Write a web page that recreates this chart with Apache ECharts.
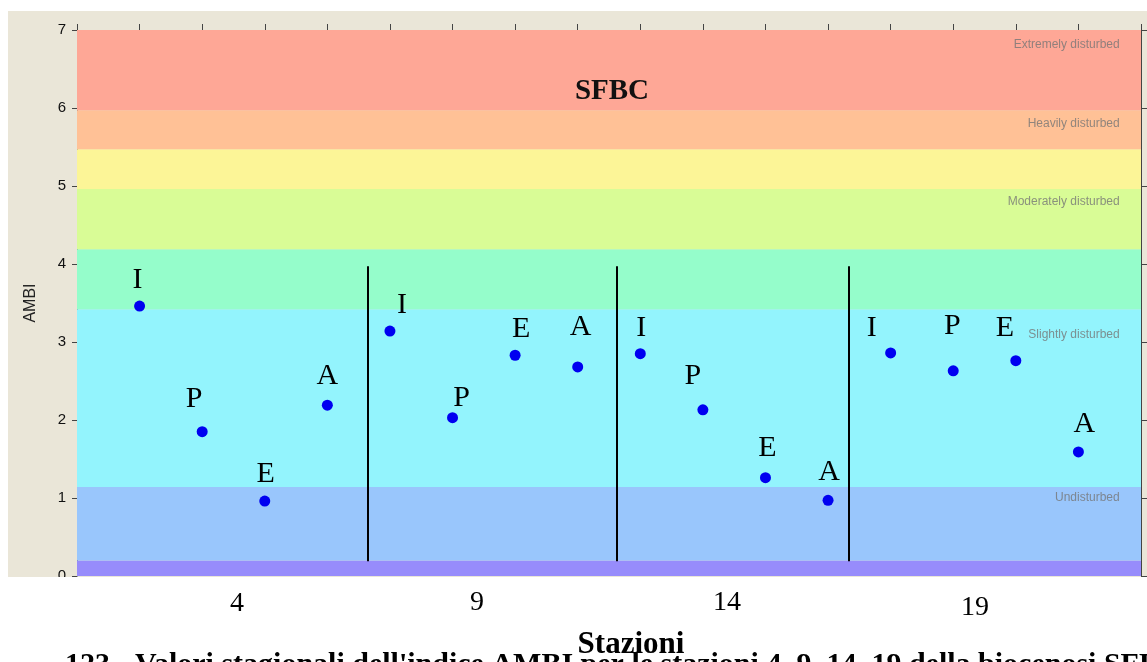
<!DOCTYPE html>
<html><head><meta charset="utf-8">
<script src="https://cdn.jsdelivr.net/npm/echarts@6/dist/echarts.min.js"></script>
<style>html,body{margin:0;padding:0;background:#fff;overflow:hidden;} #c{width:1147px;height:662px;}</style>
</head><body><div id="c"></div>
<script>
// ---- data ----
const seasons = ['I', 'P', 'E', 'A'];
const stations = ['4', '9', '14', '19'];
const ambi4 = [3.46, 1.85, 0.96, 2.19];
const ambi9 = [3.14, 2.03, 2.83, 2.68];
const ambi14 = [2.85, 2.13, 1.26, 0.97];
const ambi19 = [2.86, 2.63, 2.76, 1.59];
const bandBounds = [0, 0.2, 1.14, 3.42, 4.19, 4.96, 5.47, 5.97, 7];
const bandLabels = ['Undisturbed', 'Slightly disturbed', 'Moderately disturbed', 'Heavily disturbed', 'Extremely disturbed'];
const bandLabelY = [1.0, 3.10, 4.80, 5.80, 6.81];
const separatorX = [4.65, 8.62, 12.33];
const separatorRange = [0.19, 3.97];
const yTicks = [0, 1, 2, 3, 4, 5, 6, 7];
const xTicks = [0, 17];
const chartTitle = 'SFBC';
const xTitle = 'Stazioni';
const yTitle = 'AMBI';
const caption = "123 - Valori stagionali dell'indice AMBI per le stazioni 4, 9, 14, 19 della biocenosi SFBC";

// ---- styles ----
const bandColors = ['#978cfb', '#99c6fc', '#93f4fd', '#95fdcb', '#d9fc96', '#fcf597', '#ffc196', '#fea796'];
const letterOffsets = [
  [[-2, -26], [-8, -33], [1, -27], [0, -29]],
  [[12, -26], [9, -20], [6, -26], [3, -40]],
  [[1, -26], [-10, -34], [2, -30], [1, -28]],
  [[-19, -25], [-1, -45], [-11, -33], [6, -28]]
];
const stationLabelPos = [[237, 604], [477, 603], [727, 603], [975, 608]];
const bandLabelX = 16.66;
const serif = '"Liberation Serif", "Times New Roman", serif';
const sans = '"Liberation Sans", Arial, sans-serif';

const allVals = [ambi4, ambi9, ambi14, ambi19];
const pointData = [];
allVals.forEach((arr, s) => arr.forEach((v, k) => {
  pointData.push({
    value: [s * 4 + k + 1, v],
    label: { formatter: seasons[k], offset: letterOffsets[s][k] }
  });
}));

const areaData = [];
for (let i = 0; i < bandColors.length; i++) {
  areaData.push([{ yAxis: bandBounds[i], itemStyle: { color: bandColors[i] } }, { yAxis: bandBounds[i + 1] }]);
}

const chart = echarts.init(document.getElementById('c'), null, { renderer: 'canvas' });

const graphics = [
  { type: 'rect', shape: { x: 8, y: 11, width: 1139, height: 566 }, style: { fill: '#eae6d8' }, z: -10, silent: true },
  { type: 'rect', shape: { x: 0, y: 577, width: 1147, height: 85 }, style: { fill: '#ffffff' }, z: 100, silent: true },
  { type: 'text', x: 612, y: 92, z: 60, style: { text: chartTitle, font: 'bold 29px ' + serif, fill: '#111', align: 'center', verticalAlign: 'middle' } },
  { type: 'text', x: 65, y: 650, z: 101, style: { text: caption, font: 'bold 30px ' + serif, fill: '#000', align: 'left', verticalAlign: 'top' } },
  { type: 'text', x: 631, y: 645, z: 102, style: { text: xTitle, font: 'bold 31px ' + serif, fill: '#000', align: 'center', verticalAlign: 'middle' } }
];
stations.forEach((s, i) => {
  graphics.push({ type: 'text', x: stationLabelPos[i][0], y: stationLabelPos[i][1], z: 101,
    style: { text: s, font: '28px ' + serif, fill: '#000', align: 'center', verticalAlign: 'middle' } });
});

chart.setOption({
  animation: false,
  backgroundColor: '#ffffff',
  grid: { left: 77, right: 6, top: 30, bottom: 86, containLabel: false, outerBoundsMode: 'none' },
  xAxis: {
    type: 'value', min: xTicks[0], max: xTicks[1], interval: 1, position: 'top',
    axisLine: { show: true, onZero: false, lineStyle: { color: '#444', width: 1 } },
    axisTick: { show: true, inside: false, length: 6, lineStyle: { color: '#444' } },
    axisLabel: { show: false }, splitLine: { show: false }
  },
  yAxis: [{
    type: 'value', min: yTicks[0], max: yTicks[yTicks.length - 1], interval: 1, position: 'left',
    name: yTitle, nameLocation: 'middle', nameGap: 38,
    nameTextStyle: { fontFamily: sans, fontSize: 16, color: '#222' },
    axisLine: { show: true, onZero: false, lineStyle: { color: '#444', width: 1 } },
    axisTick: { show: true, inside: false, length: 5, lineStyle: { color: '#444' } },
    axisLabel: { fontFamily: sans, fontSize: 15, color: '#111', margin: 11 },
    splitLine: { show: false }
  }, {
    type: 'value', min: yTicks[0], max: yTicks[yTicks.length - 1], interval: 1, position: 'right',
    axisLine: { show: true, onZero: false, lineStyle: { color: '#444', width: 1 } },
    axisTick: { show: true, inside: false, length: 6, lineStyle: { color: '#444' } },
    axisLabel: { show: false }, splitLine: { show: false }
  }],
  graphic: graphics,
  series: [
    {
      type: 'scatter', name: 'bands', data: [], z: 1, silent: true,
      markArea: { silent: true, itemStyle: { opacity: 1 }, label: { show: false }, data: areaData }
    },
    {
      type: 'scatter', name: 'bandLabels', z: 2, silent: true, symbolSize: 0,
      data: bandLabels.map((t, i) => ({ value: [bandLabelX, bandLabelY[i]], label: { formatter: t } })),
      label: { show: true, position: 'inside', align: 'right', verticalAlign: 'middle', fontFamily: sans, fontSize: 12, color: '#757575' }
    },
    {
      type: 'scatter', name: 'sep', data: [], z: 3, silent: true,
      markLine: {
        silent: true, symbol: ['none', 'none'], label: { show: false },
        lineStyle: { color: '#000', width: 2, type: 'solid', opacity: 1 },
        data: separatorX.map(x => [{ coord: [x, separatorRange[0]] }, { coord: [x, separatorRange[1]] }])
      }
    },
    {
      type: 'scatter', name: 'AMBI', z: 5, symbol: 'circle', symbolSize: 11,
      itemStyle: { color: '#0000f0', opacity: 1 },
      data: pointData,
      label: { show: true, position: 'inside', fontFamily: serif, fontSize: 30, color: '#000', opacity: 1, align: 'center', verticalAlign: 'middle' }
    }
  ]
});
</script>
</body></html>
